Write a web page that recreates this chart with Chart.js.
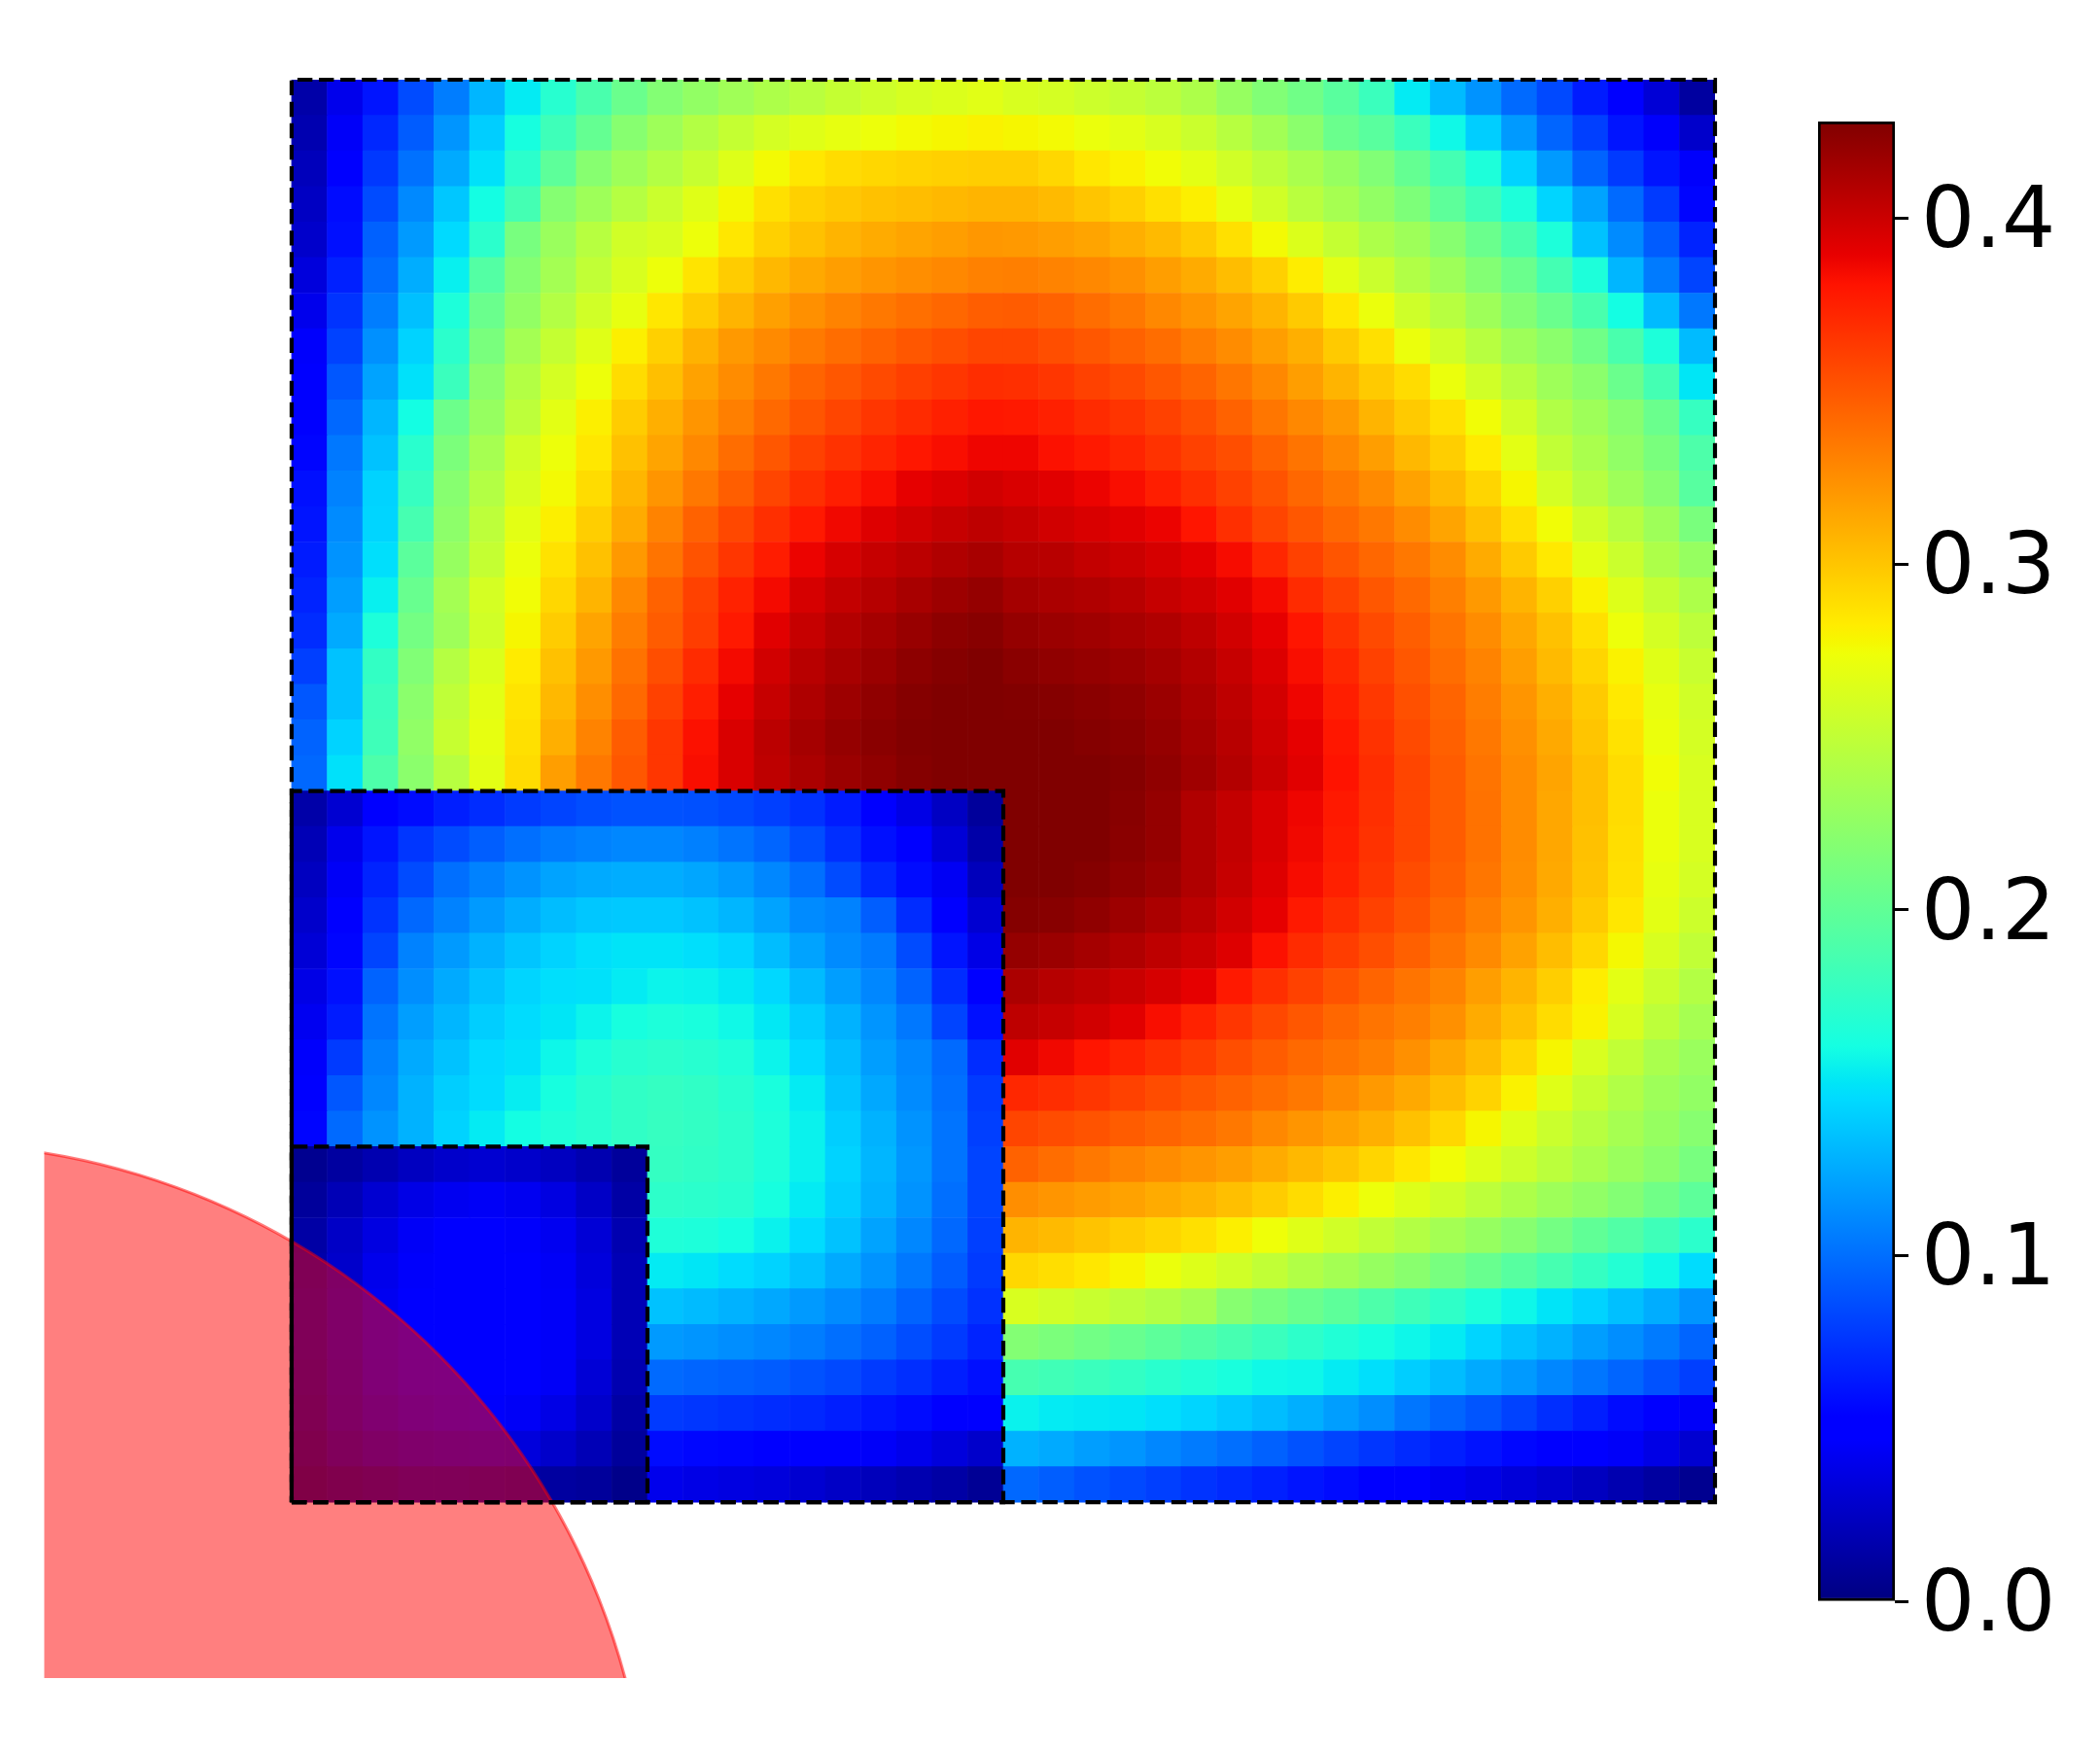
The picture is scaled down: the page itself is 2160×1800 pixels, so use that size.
<!DOCTYPE html>
<html>
<head>
<meta charset="utf-8">
<title>Heat map</title>
<script src="https://cdn.jsdelivr.net/npm/chart.js@4/dist/chart.umd.min.js"></script>
<style>
  body { margin: 0; background: #fff; }
  #wrap { position: relative; width: 2160px; height: 1800px; }
  canvas { position: absolute; }
  #mainChart { left: 0; top: 0; }
  #barChart { left: 1860px; top: 100px; }
</style>
</head>
<body>
<div id="wrap">
  <canvas id="mainChart" width="2160" height="1800"></canvas>
  <canvas id="barChart" width="300" height="1600"></canvas>
</div>
<script>
// cell values in thousandths, top row first
var heatRows = [
[15,40,62,85,106,130,152,170,188,205,218,226,233,240,246,252,257,261,264,267,262,260,256,252,247,240,228,217,208,196,180,152,132,115,98,84,65,47,32,12],
[18,45,70,92,116,140,162,182,202,220,232,243,252,260,266,270,273,276,278,280,278,276,272,268,262,255,245,234,222,205,196,180,158,140,118,96,80,62,46,28],
[22,50,77,101,125,148,172,198,220,232,243,253,265,276,285,290,292,294,295,296,296,292,285,280,275,268,258,248,238,228,217,202,185,165,142,118,95,78,62,46],
[25,58,85,111,137,160,185,219,232,244,255,266,277,288,295,299,302,304,306,308,308,305,300,295,288,281,270,258,246,236,226,215,198,182,165,143,122,98,78,55],
[28,60,94,118,145,172,212,230,245,258,262,273,285,295,302,308,312,315,318,321,320,318,315,310,305,298,288,276,264,252,240,232,220,205,188,165,135,112,92,68],
[34,67,99,126,154,193,219,235,250,262,273,286,297,306,313,318,322,325,328,331,332,330,328,324,318,312,304,295,282,268,255,242,232,218,205,185,165,130,105,82],
[40,75,106,134,165,205,226,243,258,270,285,297,308,317,324,330,335,339,343,347,348,345,340,335,328,322,315,308,298,285,272,257,245,232,218,205,188,160,132,104],
[46,81,114,142,172,213,235,252,266,281,295,309,320,327,334,340,345,350,354,358,358,354,350,345,340,333,326,318,310,298,288,272,258,245,232,222,208,188,165,132],
[49,90,122,148,180,222,243,260,273,290,303,316,326,335,344,350,356,361,365,369,368,365,360,356,350,344,336,328,318,308,298,290,272,258,245,232,222,205,185,150],
[52,97,130,160,206,228,248,268,281,297,310,322,332,342,351,358,365,370,375,379,378,375,370,366,360,353,345,336,328,320,308,298,288,275,258,242,232,220,205,178],
[55,104,135,171,214,236,258,273,285,302,315,328,340,350,360,367,373,379,383,387,387,382,378,373,367,360,354,345,337,328,318,306,296,283,268,250,238,225,213,190],
[60,108,142,178,220,243,262,276,290,307,322,335,347,358,368,376,383,390,394,398,395,392,388,383,376,368,360,352,343,335,327,316,305,293,278,260,245,232,220,195],
[62,112,143,186,223,248,268,281,296,312,330,345,357,368,378,386,393,398,402,405,402,398,395,392,388,380,368,358,350,342,335,326,315,302,288,275,258,245,232,213],
[65,115,147,197,228,252,272,287,302,320,337,352,365,377,388,396,402,406,410,413,408,407,403,400,396,391,384,372,360,351,343,335,326,312,298,284,268,255,240,228],
[68,120,154,204,235,260,275,292,308,328,345,360,374,385,396,403,408,413,417,420,414,412,410,407,402,398,392,385,370,360,350,342,332,320,308,295,280,265,252,240],
[72,125,165,210,232,258,278,297,315,333,348,362,378,392,402,409,414,419,423,425,420,418,416,413,410,405,398,390,380,367,356,347,337,326,314,302,288,273,260,248],
[80,135,176,217,244,264,283,302,320,338,354,370,385,398,407,413,418,423,426,428,424,422,420,418,414,409,402,394,383,372,360,350,340,330,318,305,293,280,266,254],
[90,135,180,222,249,268,286,306,325,342,360,376,390,402,411,417,422,426,428,429,427,426,424,422,418,412,405,397,387,376,364,353,344,333,322,310,298,284,270,258],
[95,142,182,225,253,270,288,310,330,348,365,382,395,406,414,420,424,427,429,430,429,428,426,424,420,414,407,399,390,379,367,356,346,335,324,313,300,287,272,260],
[97,148,190,222,245,268,290,318,335,350,365,383,395,405,412,418,422,426,428,430,430,430,428,426,422,416,409,401,392,381,369,358,348,337,326,315,303,290,275,262],
[15,30,47,58,66,72,78,82,86,88,88,87,84,80,74,65,50,38,25,10,430,430,428,425,420,410,403,395,387,378,368,358,348,338,326,314,303,290,272,262],
[20,40,62,76,85,93,100,105,108,110,110,107,102,96,86,73,60,47,32,15,430,430,428,424,420,410,403,395,386,377,367,358,348,338,326,314,302,289,272,262],
[24,44,68,85,100,108,115,122,125,126,126,123,118,110,100,85,70,58,43,22,429,428,426,422,418,410,402,393,384,375,365,355,346,336,325,313,301,288,270,260],
[28,50,75,97,108,118,126,133,137,138,138,135,130,122,112,108,93,72,52,30,426,425,422,417,412,406,398,390,378,369,360,352,342,332,322,310,298,285,268,256],
[32,55,82,108,118,128,136,142,147,149,149,147,143,133,122,112,105,85,62,38,420,418,414,410,405,400,393,382,370,362,354,346,337,327,316,304,292,277,262,250],
[38,60,95,113,125,135,143,147,148,152,156,155,151,144,132,120,110,95,72,47,412,408,405,401,396,390,378,368,360,352,344,337,330,318,308,296,282,268,255,243],
[42,65,102,120,130,140,146,150,156,162,165,163,158,151,140,128,116,104,82,60,405,402,398,392,383,374,365,357,350,343,337,332,324,312,302,290,280,262,248,236],
[46,78,107,125,135,145,148,157,165,170,172,170,166,156,145,133,120,110,98,72,392,386,380,374,368,362,354,348,342,337,332,324,314,304,292,278,262,250,238,230],
[50,90,110,128,140,146,153,162,170,175,177,175,170,163,152,136,124,112,100,78,372,369,365,360,355,350,345,340,335,327,320,313,304,294,280,266,253,242,232,226],
[55,98,115,128,142,152,160,166,170,175,178,176,172,165,155,140,128,115,102,80,358,355,352,348,344,340,335,328,322,316,310,302,292,278,266,255,245,236,228,220],
[6,12,18,24,28,30,28,24,18,10,177,175,172,165,155,142,130,117,102,82,345,340,335,330,326,322,318,312,306,300,293,285,275,265,256,247,238,230,222,212],
[10,20,30,38,42,44,42,36,26,14,173,172,170,162,152,140,128,115,100,82,325,322,319,316,312,308,303,297,290,281,273,265,257,248,240,232,225,218,208,198],
[14,26,36,44,47,48,46,42,32,18,166,165,161,155,146,135,122,110,97,80,308,305,301,297,293,288,281,274,266,258,250,243,235,228,220,210,200,192,182,172],
[16,28,40,46,48,49,48,44,34,20,152,150,146,142,135,125,115,104,92,78,292,289,285,279,272,265,258,250,242,235,228,221,212,204,195,186,177,168,158,146],
[18,30,42,47,49,50,48,45,36,20,135,132,128,124,118,112,105,95,85,74,262,258,254,248,243,236,220,212,205,198,190,182,174,165,157,149,142,134,126,116],
[18,30,42,47,49,50,48,45,36,20,118,116,113,110,106,100,94,86,78,68,218,214,209,204,198,192,186,180,173,167,162,157,152,143,135,128,120,113,105,96],
[16,28,40,46,48,49,47,44,32,18,98,96,94,92,88,84,78,73,66,60,186,183,180,176,171,167,163,158,157,152,147,140,133,125,118,110,103,96,88,80],
[14,26,36,42,45,46,44,38,28,14,78,76,74,72,70,66,62,58,53,50,155,152,151,150,147,143,138,133,127,120,113,103,96,89,81,73,66,58,51,45],
[10,20,28,32,34,36,34,28,20,10,58,56,55,53,50,47,45,40,34,28,128,125,120,116,110,105,100,94,88,82,76,71,66,61,56,52,48,45,38,30],
[5,10,14,18,18,16,14,12,10,4,40,38,36,34,30,26,22,18,14,8,97,93,88,84,80,75,71,67,62,58,53,47,42,38,33,29,24,18,12,6]
];
var colorMax = 428;
var barTicks = [0, 0.1, 0.2, 0.3, 0.4];

// dashed squares, same corner order for each: lower left, lower right, upper right, upper left
var squareOuterX = [0, 1, 1, 0, 0];
var squareOuterY = [0, 0, 1, 1, 0];
var squareMidX = [0, 0.5, 0.5, 0, 0];
var squareMidY = [0, 0, 0.5, 0.5, 0];
var squareSmallX = [0, 0.25, 0.25, 0, 0];
var squareSmallY = [0, 0, 0.25, 0.25, 0];

var circleX = -0.2546;
var circleY = -0.2543;
var circleR = 0.506;

var JET_R = [[0,0],[.35,0],[.66,1],[.89,1],[1,.5]];
var JET_G = [[0,0],[.125,0],[.375,1],[.64,1],[.91,0],[1,0]];
var JET_B = [[0,.5],[.11,1],[.34,1],[.65,0],[1,0]];

function seg(anchors, t) {
  for (var i = 1; i < anchors.length; i++) {
    if (t <= anchors[i][0]) {
      var a = anchors[i-1], b = anchors[i];
      return a[1] + (b[1]-a[1]) * (t-a[0]) / (b[0]-a[0]);
    }
  }
  return anchors[anchors.length-1][1];
}

function jet(t) {
  t = Math.max(0, Math.min(1, t));
  return 'rgb(' + Math.round(seg(JET_R,t)*255) + ',' + Math.round(seg(JET_G,t)*255) + ',' + Math.round(seg(JET_B,t)*255) + ')';
}

function linePoints(xs, ys) {
  return xs.map(function(x, i){ return { x: x, y: ys[i] }; });
}

function squareSet(xs, ys) {
  return {
    type: 'scatter', data: linePoints(xs, ys), showLine: true, pointRadius: 0,
    borderColor: '#000', borderWidth: 4.17, borderDash: [15.4, 6.67], tension: 0,
    fill: false, clip: false, order: 0
  };
}

var nRows = heatRows.length;
var nCols = heatRows[0].length;
var cellPoints = [];
var cellColors = [];
heatRows.forEach(function(row, r) {
  row.forEach(function(v, c) {
    cellPoints.push({ x: (c + 0.5) / nCols, y: 1 - (r + 0.5) / nRows });
    cellColors.push(jet(v / colorMax));
  });
});

new Chart(document.getElementById('mainChart'), {
  type: 'scatter',
  data: {
    datasets: [
      squareSet(squareOuterX, squareOuterY),
      squareSet(squareMidX, squareMidY),
      squareSet(squareSmallX, squareSmallY),
      {
        data: [{ x: circleX, y: circleY }],
        pointStyle: 'circle',
        pointRadius: function(c) {
          var s = c.chart.scales.x;
          return Math.abs(s.getPixelForValue(circleR) - s.getPixelForValue(0));
        },
        pointBackgroundColor: 'rgba(255,0,0,0.5)',
        pointBorderColor: 'rgba(255,0,0,0.5)',
        pointBorderWidth: 3,
        order: 1
      },
      {
        data: cellPoints,
        pointStyle: 'rect',
        pointRadius: function(c) {
          var s = c.chart.scales.x;
          var w = Math.abs(s.getPixelForValue(1 / nCols) - s.getPixelForValue(0));
          return (w + 0.6) / 2 * Math.SQRT2;
        },
        pointBackgroundColor: cellColors,
        pointBorderWidth: 0,
        order: 2
      }
    ]
  },
  options: {
    responsive: false, animation: false, events: [],
    layout: { padding: { left: 45.5, right: 396, top: 82, bottom: 74 } },
    plugins: { legend: { display: false }, tooltip: { enabled: false } },
    scales: {
      x: { type: 'linear', display: false, min: -0.1738, max: 1 },
      y: { type: 'linear', display: false, min: -0.1236, max: 1 }
    }
  }
});

function barGradient(c) {
  var area = c.chart.chartArea;
  if (!area) return '#000';
  var g = c.chart.ctx.createLinearGradient(0, area.bottom, 0, area.top);
  [0,.11,.125,.34,.35,.375,.5,.64,.65,.66,.89,.91,1].forEach(function(t) {
    g.addColorStop(t, jet(t));
  });
  return g;
}

new Chart(document.getElementById('barChart'), {
  type: 'bar',
  data: {
    labels: [''],
    datasets: [{
      data: [0.4281],
      backgroundColor: barGradient,
      borderColor: '#000',
      borderWidth: 3,
      borderSkipped: false,
      barPercentage: 1,
      categoryPercentage: 1
    }]
  },
  options: {
    responsive: false, animation: false, events: [],
    layout: { padding: { left: 10, right: 0, top: 25, bottom: 53 } },
    plugins: { legend: { display: false }, tooltip: { enabled: false } },
    scales: {
      x: { display: false },
      y: {
        position: 'right', min: 0, max: 0.4281,
        afterBuildTicks: function(s) {
          s.ticks = barTicks.map(function(v){ return { value: v }; });
        },
        afterFit: function(s) {
          s.width = 211;
          s.paddingTop = 0;
          s.paddingBottom = 0;
        },
        border: { display: false },
        grid: { drawOnChartArea: false, tickLength: 14, tickWidth: 3, tickColor: '#000' },
        ticks: {
          color: '#000', padding: 13, labelOffset: 7,
          font: { family: 'DejaVu Sans', size: 87 },
          callback: function(v) { return v.toFixed(1); }
        }
      }
    }
  }
});
</script>
</body>
</html>
